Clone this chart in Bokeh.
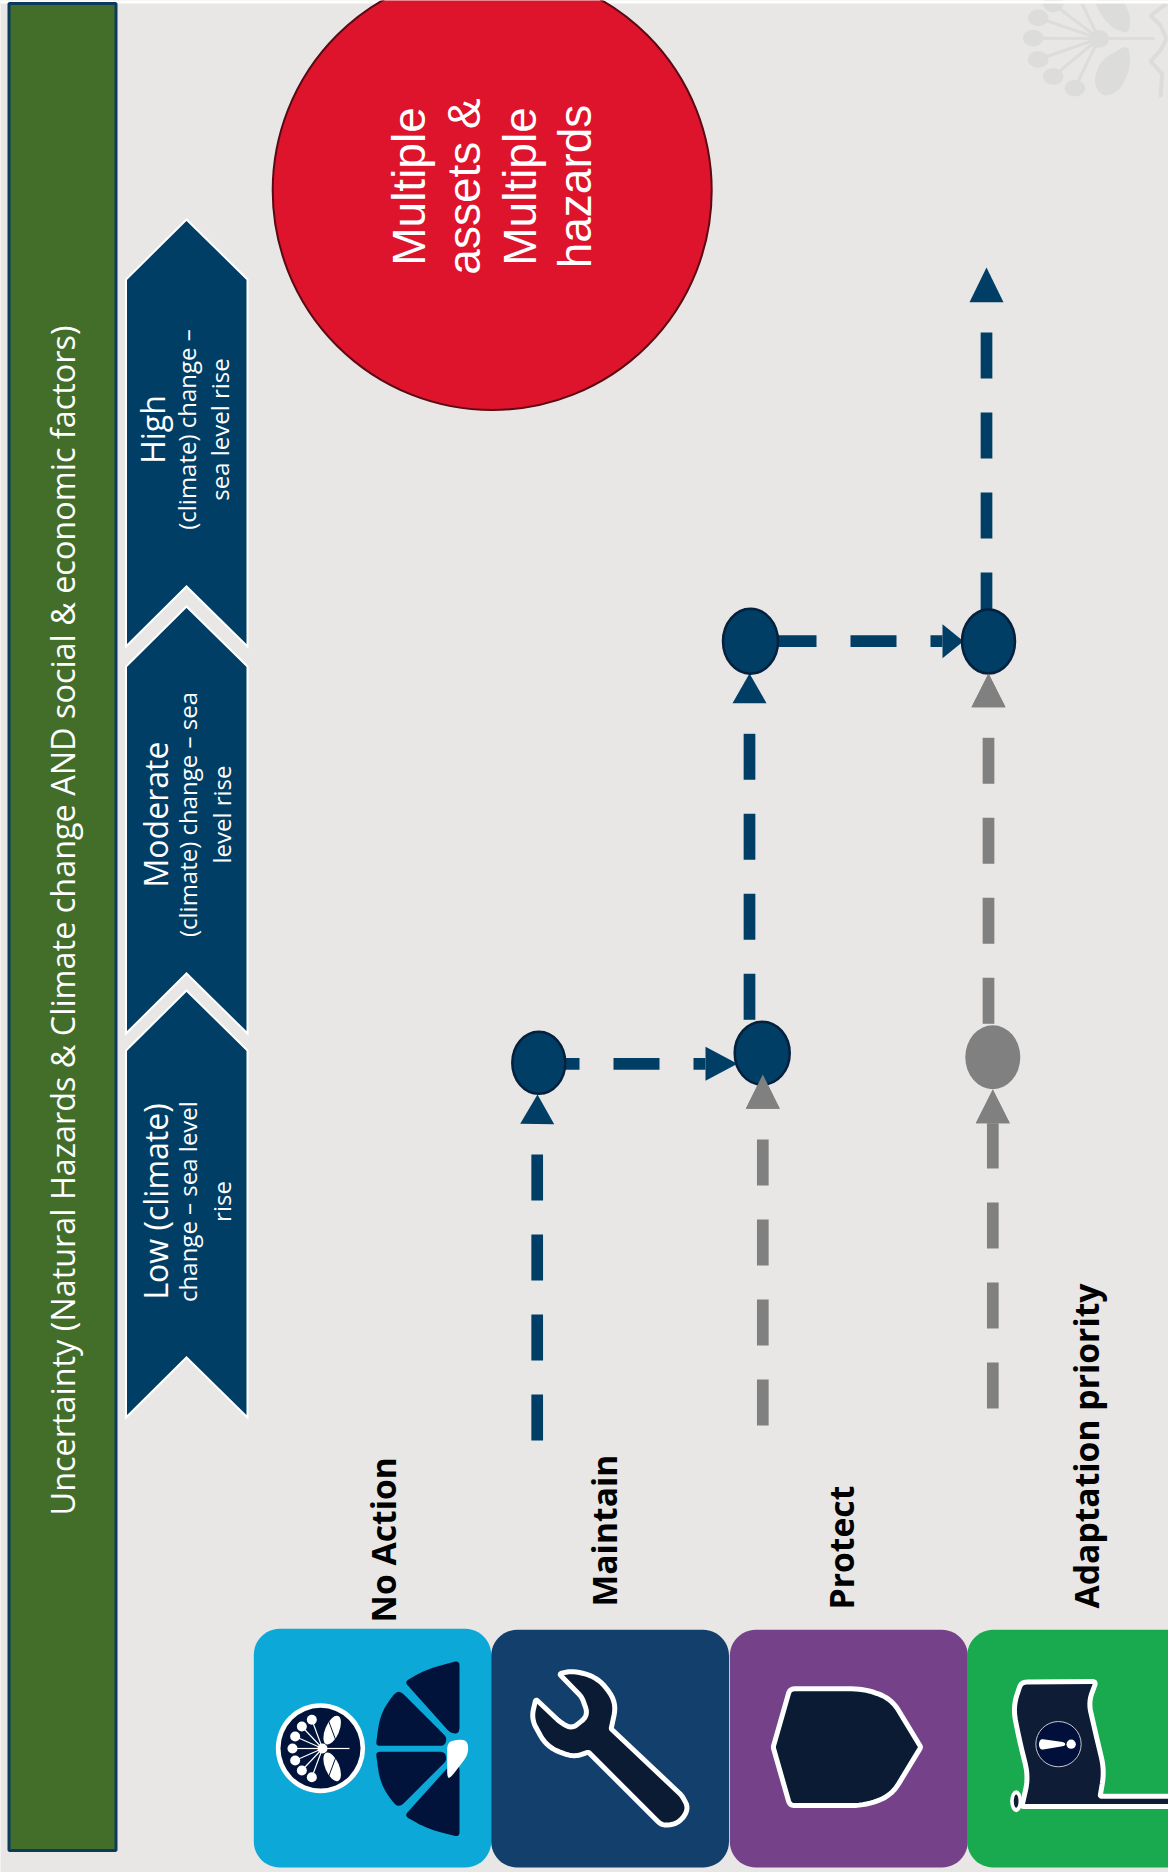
import math
from bokeh.plotting import figure
from bokeh.core.properties import value
from bokeh.embed import file_html
from bokeh.resources import INLINE

# ---- content -----------------------------------------------------------
BANNER = "Uncertainty (Natural Hazards & Climate change AND social & economic factors)"
SCENARIO_HEAD = ["High", "Moderate", "Low (climate)"]
SCENARIO_L2 = ["(climate) change \u2013", "(climate) change \u2013 sea", "change \u2013 sea level"]
SCENARIO_L3 = ["sea level rise", "level rise", "rise"]
SCENARIO_TIP = [219, 606, 990]
SCENARIO_CY = [429, 814, 1201]
HEAD_BASE = [167, 170, 170]
L2_BASE = [201, 202, 202]
L3_BASE = [234, 236, 236]
BUBBLE_LINES = ["Multiple", "assets &", "Multiple", "hazards"]
ACTIONS = ["No Action", "Maintain", "Protect", "Adaptation priority"]
ACTION_BASE = [397, 618.5, 855.5, 1100.5]
ACTION_BOTTOM = [1622, 1606, 1609, 1608]
TILE_COLORS = ["#0CA8D8", "#133F6C", "#75428A", "#19A94F"]
TILE_X0 = [253.3, 490.7, 729.3, 966.7]
TILE_X1 = [490.7, 728.5, 967.3, 1230]
TILE_Y0 = [1628.3, 1629.3, 1629.3, 1629.3]

# pathway nodes: x, y, width, height, colour
NODE_X = [538.3, 761.7, 750, 988, 992.3]
NODE_Y = [1062.3, 1052.7, 640.7, 641, 1056.7]
NODE_W = [53, 55, 55, 53, 55]
NODE_H = [62, 63, 65, 64, 64]
NODE_FILL = ["#003E66", "#003E66", "#003E66", "#003E66", "#808080"]
NODE_LINE = ["#04203C", "#04203C", "#04203C", "#04203C", None]

NAVY = "#003E66"
GREY = "#808080"
BG = "#E8E7E5"
# pathway links: start, end, tail end, colour
LINKS = [
    ((536.7, 1440), (536.7, 1123.5), (537, 1094), NAVY),
    ((533, 1063.3), (705, 1063.3), (737, 1063.3), NAVY),
    ((762.3, 1425), (762.3, 1108.3), (762.3, 1074), GREY),
    ((749, 1019.3), (749, 702.7), (749, 673), NAVY),
    ((770, 640.7), (942, 640.7), (963, 640.7), NAVY),
    ((986, 618), (986, 301.7), (986, 267), NAVY),
    ((988, 1023.3), (988, 706.7), (988, 673), GREY),
    ((992.3, 1408), (992.3, 1122.7), (992.3, 1089), GREY),
]

p = figure(width=1168, height=1872, x_range=(0, 1168), y_range=(1872, 0),
           output_backend="svg", toolbar_location=None, min_border=0,
           background_fill_color=BG, border_fill_color=BG)
p.axis.visible = False
p.grid.visible = False
p.outline_line_color = None
TEXT_DX = -15


def rounded(pts, d):
    """Replace every corner by a small curve; a vertex may carry its own reach as third item."""
    out = []
    N = len(pts)
    for i in range(N):
        ax, ay = pts[i - 1][:2]
        bx, by = pts[i][:2]
        cx, cy = pts[(i + 1) % N][:2]
        di = pts[i][2] if len(pts[i]) > 2 else d
        la = math.hypot(ax - bx, ay - by)
        lc = math.hypot(cx - bx, cy - by)
        ta = min(di, la / 2) / la
        tc = min(di, lc / 2) / lc
        sx, sy = bx + (ax - bx) * ta, by + (ay - by) * ta
        ex, ey = bx + (cx - bx) * tc, by + (cy - by) * tc
        for k in range(8):
            t = k / 7
            out.append(((1 - t) ** 2 * sx + 2 * t * (1 - t) * bx + t * t * ex,
                        (1 - t) ** 2 * sy + 2 * t * (1 - t) * by + t * t * ey))
    return out


def shape(pts, ox, oy, fill, line=None, lw=0, d=14):
    pts = rounded(pts, d) if d else pts
    p.patch([ox + a / 3 for a, _ in pts], [oy + b / 3 for _, b in pts], fill_color=fill,
            line_color=line, line_width=lw, line_join="round")


def ell(zx, zy, rx, ry, ox, oy, fill, line=None, lw=0, angle=0.0):
    p.ellipse([ox + zx / 3], [oy + zy / 3], width=2 * rx / 3, height=2 * ry / 3, angle=angle,
              fill_color=fill, line_color=line, line_width=lw)


def txt(x, y, s, font, size, color, align="center", style="normal"):
    p.text([x + TEXT_DX], [y], text=[s], angle=math.pi / 2, text_font=value(font), text_font_size=size,
           text_color=color, text_align=align, text_baseline="alphabetic", text_font_style=style)


# ---- top strip, watermark -------------------------------------------------
WM = "#DCDCDA"
wo = (960, 0)
wdots = [(218, 113), (233, 52), (233, 177), (278, 228), (343, 263), (278, 10)]
for (a, b) in wdots + [(365, 10)]:
    p.line([wo[0] + 415 / 3, wo[0] + a / 3], [38, b / 3], line_color=WM, line_width=3)
for (a, b) in wdots:
    ell(a, b, 31, 25, wo[0], wo[1], WM)
ell(415, 115, 31, 27, wo[0], wo[1], WM)
p.line([1098, 1154], [38, 38], line_color=WM, line_width=3)
shape([(505, 130), (510, 200), (480, 270), (425, 292), (398, 245), (420, 180)], wo[0], wo[1], WM, d=30)
shape([(505, 100), (510, 50), (490, 0), (400, 0), (425, 50), (460, 85)], wo[0], wo[1], WM, d=20)
p.line([960 + a / 3 for a in (618, 570, 600, 618)], [b / 3 for b in (10, 45, 75, 115)], line_color=WM, line_width=4)
p.line([960 + a / 3 for a in (618, 600, 570, 605, 600)], [b / 3 for b in (115, 150, 182, 220, 290)], line_color=WM, line_width=4)
p.quad(left=0, right=1168, top=0, bottom=3, fill_color="#FFFFFF", line_color=None)

# ---- banner --------------------------------------------------------------
p.quad(left=8.5, right=115.5, top=3, bottom=1850, fill_color="#426E29", line_color="#0B3A5E", line_width=3)
txt(76, 920, BANNER, "Open Sans", "32.4px", "#FFFFFF")

# ---- scenario chevrons ----------------------------------------------------
for head, l2, l3, tip, cy, hb, b2, b3 in zip(SCENARIO_HEAD, SCENARIO_L2, SCENARIO_L3, SCENARIO_TIP, SCENARIO_CY,
                                             HEAD_BASE, L2_BASE, L3_BASE):
    xs = [125.5, 186, 247, 247, 186, 125.5]
    ys = [tip + 60, tip, tip + 60, tip + 427, tip + 367, tip + 427]
    p.patch(xs, ys, fill_color=NAVY, line_color="#FFFFFF", line_width=2, line_join="miter")
    txt(hb, cy, head, "Open Sans", "32px", "#FFFFFF")
    txt(b2, cy, l2, "Open Sans", "24px", "#FFFFFF")
    txt(b3, cy, l3, "Open Sans", "24px", "#FFFFFF")

# ---- red bubble -----------------------------------------------------------
p.ellipse([491.7], [190], width=439, height=439, fill_color="#DE132C", line_color="#5A0A14", line_width=2)
for i, s in enumerate(BUBBLE_LINES):
    txt(423.5 + i * 55.4, 186, s, "Liberation Sans", "46px", "#FFFFFF")

# ---- pathways -------------------------------------------------------------
for (a, b, tip, col) in LINKS:
    p.line([a[0], b[0]], [a[1], b[1]], line_color=col, line_width=11.7, line_dash="46 34", line_cap="butt")
    dx = tip[0] - b[0]
    dy = tip[1] - b[1]
    L = math.hypot(dx, dy)
    nx, ny = -dy / L * 17, dx / L * 17
    p.patch([b[0] + nx, tip[0], b[0] - nx], [b[1] + ny, tip[1], b[1] - ny], fill_color=col, line_color=None)

for i in [0, 1, 2, 3, 4]:
    p.ellipse([NODE_X[i]], [NODE_Y[i]], width=NODE_W[i], height=NODE_H[i], fill_color=NODE_FILL[i],
              line_color=NODE_LINE[i], line_width=2.5 if NODE_LINE[i] else 0)
# the grey arrow heads sit on top of their nodes
for (a, b, tip, col) in LINKS:
    if col == GREY:
        dx = tip[0] - b[0]
        dy = tip[1] - b[1]
        L = math.hypot(dx, dy)
        nx, ny = -dy / L * 17, dx / L * 17
        p.patch([b[0] + nx, tip[0], b[0] - nx], [b[1] + ny, tip[1], b[1] - ny], fill_color=col, line_color=None)

# ---- action labels ---------------------------------------------------------
for s, x, y in zip(ACTIONS, ACTION_BASE, ACTION_BOTTOM):
    txt(x, y, s, "Open Sans", "33.7px", "#000000", align="left", style="bold")

# ---- tiles -----------------------------------------------------------------
R = 26
for col, x0, x1, y0 in zip(TILE_COLORS, TILE_X0, TILE_X1, TILE_Y0):
    y1 = 1867
    xs, ys = [], []
    for cx, cy, a0 in [(x0 + R, y0 + R, 180), (x1 - R, y0 + R, 270), (x1 - R, y1 - R, 0), (x0 + R, y1 - R, 90)]:
        for k in range(13):
            t = math.radians(a0 + 7.5 * k)
            xs.append(cx + R * math.cos(t))
            ys.append(cy + R * math.sin(t))
    p.patch(xs, ys, fill_color=col, line_color=None)

# no-action icon
ICON_DARK = "#01133A"
o1 = (250, 1620)
ell(210, 383, 134, 135, *o1, "#FFFFFF")
ell(210, 383, 120, 121, *o1, ICON_DARK)
dots = [(126, 384), (134, 348), (134, 420), (154, 318), (154, 450), (184, 298), (184, 470)]
for (a, b) in dots:
    p.line([o1[0] + 216 / 3, o1[0] + a / 3], [o1[1] + 384 / 3, o1[1] + b / 3], line_color="#FFFFFF", line_width=1.2)
    ell(a, b, 15, 15, *o1, "#FFFFFF")
ell(216, 384, 15, 15, *o1, "#FFFFFF")
p.line([o1[0] + 216 / 3, o1[0] + 297 / 3], [o1[1] + 384 / 3] * 2, line_color="#FFFFFF", line_width=1.2)
for (a, b, tilt) in [(245, 329, math.radians(-23)), (245, 439, math.radians(23))]:
    ell(a, b, 21, 46, *o1, "#FFFFFF", angle=tilt)
p.line([o1[0] + 232 / 3, o1[0] + 258 / 3], [o1[1] + 295 / 3, o1[1] + 365 / 3], line_color=ICON_DARK, line_width=1)
p.line([o1[0] + 258 / 3, o1[0] + 232 / 3], [o1[1] + 405 / 3, o1[1] + 475 / 3], line_color=ICON_DARK, line_width=1)
seg1 = [(462, 184, 14), (530, 145, 50), (627, 120, 16), (627, 340, 22), (600, 338, 14)]
seg2 = [(446, 208, 22), (590, 352, 14), (582, 376, 12), (376, 376, 12), (388, 285, 60), (424, 228, 24)]
shape(seg1, *o1, ICON_DARK)
shape([(a, 770 - b, c) for a, b, c in seg1], *o1, ICON_DARK)
shape(seg2, *o1, ICON_DARK)
shape([(a, 770 - b, c) for a, b, c in seg2], *o1, ICON_DARK)
shape([(590, 362), (650, 355), (655, 400), (600, 472), (590, 472)], *o1, "#FFFFFF", d=24)

# maintain icon
o2 = (488, 1620)
wrench = [(212, 160, 8), (255, 150, 40), (330, 172, 40), (385, 245, 40), (368, 325, 3),
          (580, 525, 10), (602, 565, 30), (570, 610, 30), (520, 615, 16), (300, 395, 3), (255, 410, 30),
          (175, 380, 40), (128, 295, 30), (142, 236, 8), (215, 305, 16),
          (250, 325, 20), (300, 285, 26), (280, 230, 12)]
shape(wrench, *o2, "#0A1B33", "#FFFFFF", 5)

# protect icon
o3 = (726, 1620)
shield = [(190, 205, 14), (415, 205, 40), (495, 235, 40), (583, 380, 5), (495, 525, 40),
          (415, 555, 40), (190, 555, 14), (140, 380, 5)]
shape(shield, *o3, "#0A1B33", "#FFFFFF", 5)

# priority icon
o4 = (964, 1620)
flag = [(170, 185, 16), (395, 183, 12), (372, 245, 30), (395, 345, 40), (420, 450, 40), (407, 527, 4),
        (800, 527, 2), (800, 558, 2), (172, 558, 5), (192, 470, 40), (165, 360, 40), (145, 260, 40)]
shape(flag, *o4, "#0E1C36", "#FFFFFF", 5)
ell(155, 542, 18, 33, *o4, "#FFFFFF")
ell(155, 542, 7, 20, *o4, "#0E1C36")
ell(282, 371, 68, 68, *o4, "#01103A", "#C8C8D0", 1)
shape([(222, 372), (228, 355), (302, 366), (302, 376), (228, 388)], *o4, "#FFFFFF", d=8)
ell(320, 371, 14, 14, *o4, "#FFFFFF")

open("out.html", "w").write(file_html(p, INLINE))
